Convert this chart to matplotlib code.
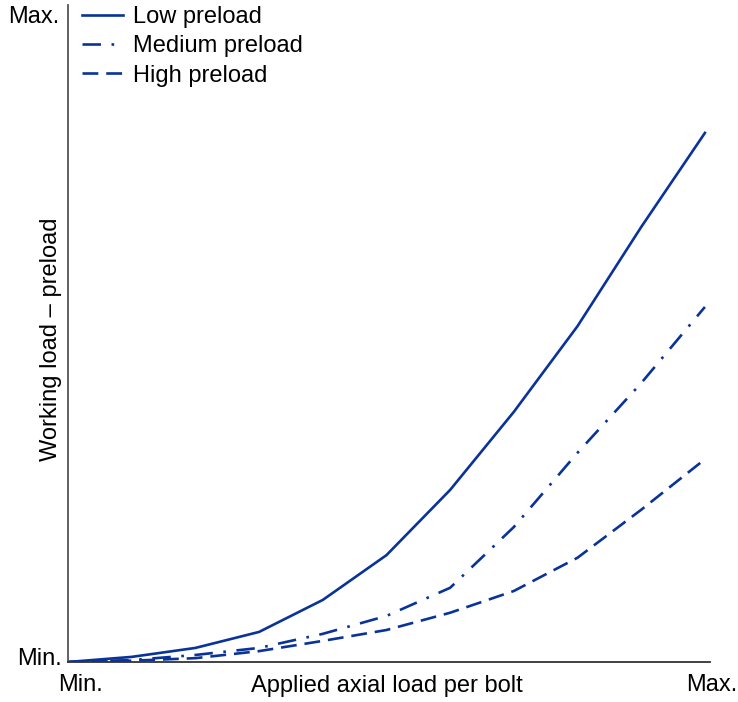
import numpy as np
import matplotlib
matplotlib.use("Agg")
import matplotlib.pyplot as plt

plt.rcParams['font.family'] = ['Liberation Sans', 'DejaVu Sans']

# applied axial load per bolt (relative steps, Min. -> Max.)
carga = [0, 1, 2, 3, 4, 5, 6, 7, 8, 9, 10]

# working load - preload, per preload level
low_preload = [0, 0.08, 0.22, 0.47, 0.97, 1.67, 2.69, 3.91, 5.25, 6.80, 8.27]
medium_preload = [0, 0.03, 0.11, 0.22, 0.44, 0.72, 1.16, 2.11, 3.27, 4.36, 5.55]
high_preload = [0, 0.02, 0.06, 0.17, 0.33, 0.50, 0.77, 1.11, 1.63, 2.38, 3.17]

etiquetas = ["Low preload", "Medium preload", "High preload"]

color = '#0a3399'
fs = 17

fig = plt.figure(figsize=(7.38, 7.02), dpi=100)
ax = fig.add_axes([68 / 738, 40 / 702, 642 / 738, 657 / 702])

ax.plot(carga, low_preload, color=color, lw=1.9, label=etiquetas[0])
ax.plot(carga, medium_preload, color=color, lw=1.9, dashes=(7, 4, 1, 4), label=etiquetas[1])
ax.plot(carga, high_preload, color=color, lw=1.9, dashes=(6, 3), label=etiquetas[2])

ax.set_xlim(0, 10.08)
ax.set_ylim(0, 10.27)

for s in ['top', 'right']:
    ax.spines[s].set_visible(False)
ax.spines['left'].set_color('#555555')
ax.spines['bottom'].set_color('#333333')
ax.spines['left'].set_linewidth(1.3)
ax.spines['bottom'].set_linewidth(1.3)
ax.set_xticks([])
ax.set_yticks([])

# axis end labels
ax.text(-0.1, 0.04, "Min.", ha='right', va='center', fontsize=fs, clip_on=False)
ax.text(-0.13, 10.08, "Max.", ha='right', va='center', fontsize=fs, clip_on=False)
ax.text(0.2, -0.36, "Min.", ha='center', va='center', fontsize=fs, clip_on=False)
ax.text(10.1, -0.36, "Max.", ha='center', va='center', fontsize=fs, clip_on=False)

ax.text(5.0, -0.38, "Applied axial load per bolt", ha='center', va='center', fontsize=fs, clip_on=False)
ax.text(-0.27, 5.05, "Working load \u2013 preload", ha='center', va='center', rotation=90,
        fontsize=fs, clip_on=False)

leg = ax.legend(loc='upper left', bbox_to_anchor=(0.0, 1.02), frameon=False, fontsize=fs,
                handlelength=1.75, handletextpad=0.4, labelspacing=0.31, borderaxespad=0.2)

fig.savefig("out.png", dpi=100)
